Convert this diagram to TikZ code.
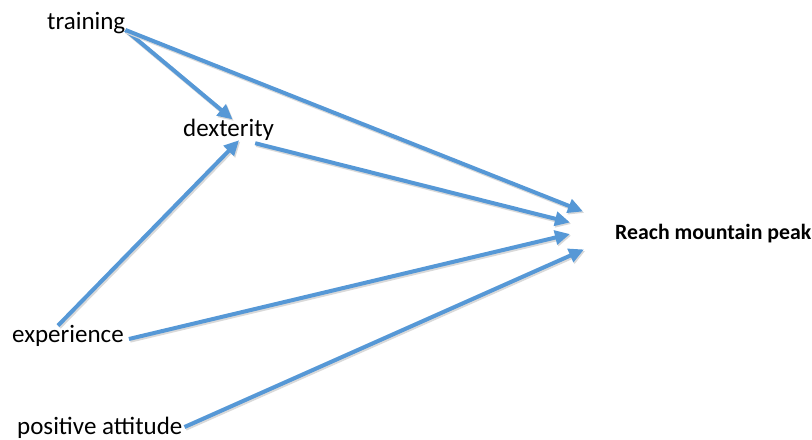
\documentclass[tikz,border=0pt]{standalone}
\usepackage{fontspec}
\setmainfont{Carlito}
\usetikzlibrary{arrows.meta,calc}
\definecolor{linkblue}{RGB}{86,152,214}
\tikzset{
  lbl/.style={inner sep=0pt, anchor=base west, font=\fontsize{25bp}{30bp}\selectfont},
  target/.style={inner sep=0pt, anchor=base west, font=\fontsize{21.8bp}{26bp}\selectfont\bfseries},
  link/.style={draw=linkblue, line width=4bp, -{Triangle[length=15bp,width=14bp]},
    preaction={draw=black!15, line width=4.4bp, -{Triangle[length=15bp,width=14bp]},
      transform canvas={shift={(1.2bp,-1.5bp)}}}}
}
\begin{document}
\begin{tikzpicture}[x=1bp,y=-1bp]
\useasboundingbox (0,0) rectangle (812,440);
\node[lbl] (train) at (47,30) {training};
\node[lbl] (dex) at (183,137) {dexterity};
\node[lbl] (exp) at (12,343) {experience};
\node[lbl] (pos) at (17,434) {positive attitude};
\node[target] (peak) at (615,240) {Reach mountain peak};

\draw[link] (train.base east) -- ($(dex.north)+(4,0)$);
\draw[link] (train.base east) -- ($(peak.west)+(-32,-22.6)$);
\draw[link] ($(dex.south east)+(-19,2)$) -- ($(peak.west)+(-45,-11.6)$);
\draw[link] ($(exp.north)+(-10,0)$) -- ($(dex.south)+(10.5,-1)$);
\draw[link] ($(exp.base east)+(5,-4)$) -- ($(peak.west)+(-45,0)$);
\draw[link] ($(pos.base east)+(2,-7)$) -- ($(peak.west)+(-31,15.4)$);
\end{tikzpicture}
\end{document}
